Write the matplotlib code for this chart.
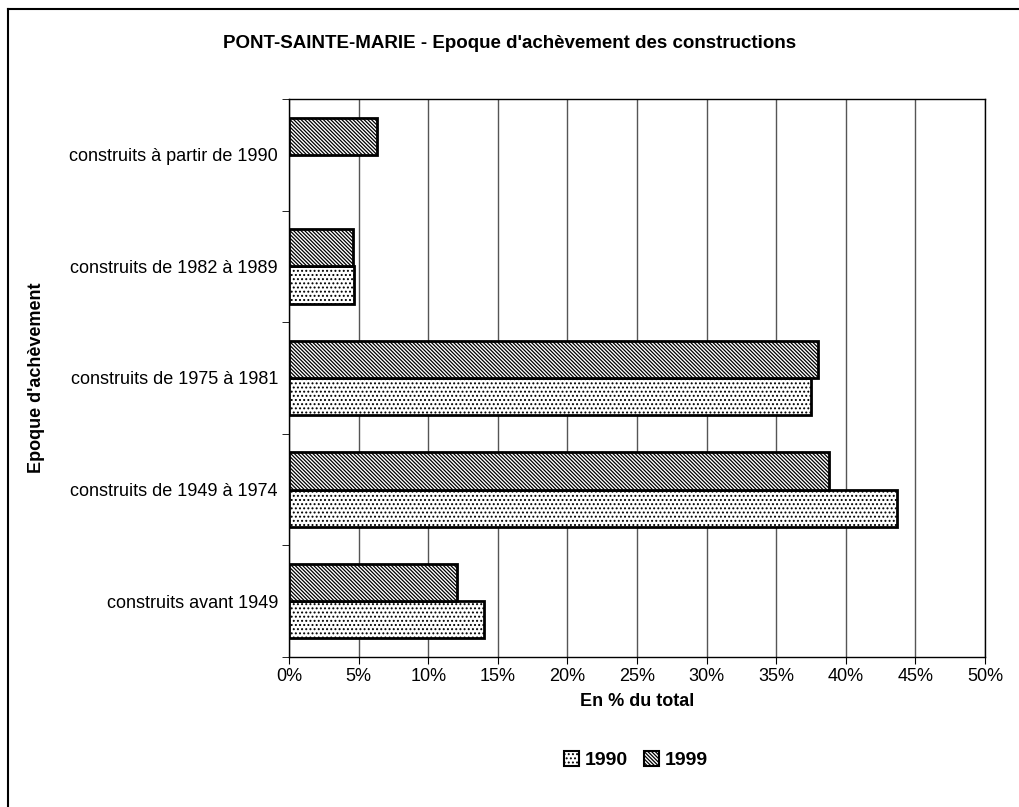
import matplotlib
matplotlib.use('Agg')
import matplotlib.pyplot as plt
import numpy as np
from matplotlib.lines import Line2D
from matplotlib.patches import Patch

plt.rcParams['font.family'] = ['Liberation Sans Narrow', 'Liberation Sans', 'DejaVu Sans']
plt.rcParams['hatch.linewidth'] = 0.9

categories = ['construits avant 1949', 'construits de 1949 à 1974',
              'construits de 1975 à 1981', 'construits de 1982 à 1989',
              'construits à partir de 1990']
v1990 = [14.0, 43.7, 37.5, 4.7, 0.0]
v1999 = [12.1, 38.8, 38.0, 4.6, 6.3]
xticks = [0, 5, 10, 15, 20, 25, 30, 35, 40, 45, 50]

dots = '....'
diag = '\\' * 9

fig = plt.figure(figsize=(10.2, 8.07), dpi=100)
ax = fig.add_axes([289 / 1020, 1 - 657 / 807, (985 - 289) / 1020, (657 - 99) / 807])

y = np.arange(len(categories))
h = 0.333
ax.barh(y - h / 2, v1990, height=h, color='white', edgecolor='black', hatch=dots,
        linewidth=[2 if v > 0 else 0 for v in v1990], zorder=3)
ax.barh(y + h / 2, v1999, height=h, color='white', edgecolor='black', hatch=diag,
        linewidth=[2 if v > 0 else 0 for v in v1999], zorder=3)

ax.set_xlim(0, 50)
ax.set_ylim(-0.5, len(categories) - 0.5)
ax.set_xticks(xticks)
ax.set_xticklabels([f'{t}%' for t in xticks], fontsize=13)
ax.set_yticks(y)
ax.set_yticklabels(categories, fontsize=13)
ax.tick_params(axis='y', length=0, pad=8)
ax.set_yticks(np.arange(-0.5, len(categories), 1), minor=True)
ax.tick_params(axis='y', which='minor', length=5, direction='out')
ax.tick_params(axis='x', length=5, direction='out', pad=3)
ax.xaxis.grid(True, color='#555555', linewidth=1)
ax.set_axisbelow(True)
for s in ax.spines.values():
    s.set_linewidth(1)
    s.set_color('black')

ax.set_xlabel('En % du total', fontsize=13, fontweight='bold', labelpad=6)
ax.set_ylabel("Epoque d'achèvement", fontsize=13, fontweight='bold')
ax.yaxis.set_label_coords(-0.35, 0.5)
fig.text(0.5, 1 - 44 / 807, "PONT-SAINTE-MARIE - Epoque d'achèvement des constructions",
         ha='center', va='center', fontsize=13.5, fontweight='bold')

handles = [Patch(facecolor='white', edgecolor='black', hatch=dots, linewidth=1.5, label='1990'),
           Patch(facecolor='white', edgecolor='black', hatch=diag, linewidth=1.5, label='1999')]
fig.legend(handles=handles, loc='center', bbox_to_anchor=(636 / 1020, 1 - 760 / 807),
           ncol=2, frameon=False, handlelength=0.8, handleheight=0.8,
           handletextpad=0.3, columnspacing=0.8, prop={'weight': 'bold', 'size': 14})

# outer frame
fig.add_artist(Line2D([8 / 1020, 8 / 1020], [0, 1 - 9 / 807], color='black', linewidth=1.5))
fig.add_artist(Line2D([8 / 1020, 1], [1 - 9 / 807, 1 - 9 / 807], color='black', linewidth=1.5))

fig.savefig('out.png', dpi=100)
